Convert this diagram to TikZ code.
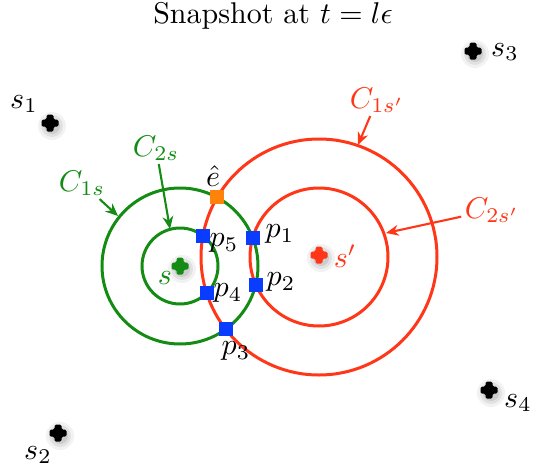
\documentclass[tikz,border=0pt]{standalone}
\usetikzlibrary{arrows.meta}
\definecolor{gr}{RGB}{20,140,20}
\definecolor{rd}{RGB}{255,55,25}
\definecolor{bl}{RGB}{10,60,255}
\definecolor{orng}{RGB}{255,130,10}
\tikzset{
  circ/.style={line width=1pt},
  sq/.style={rectangle, minimum size=4.7pt, inner sep=0pt, draw=none},
  lab/.style={inner sep=1pt},
  arr/.style={line width=0.7pt, -{Stealth[length=4.2pt,width=3.6pt]}},
  plusmark/.pic={
    \fill[black,opacity=0.05] (2,3) circle[radius=14];
    \fill[black,opacity=0.07] (2,3) circle[radius=11];
    \fill[black,opacity=0.09] (2,3) circle[radius=8];
    \fill[rounded corners=0.5pt] (-8.5,-3.5) -- (-3.5,-3.5) -- (-3.5,-8.5) -- (3.5,-8.5) -- (3.5,-3.5) -- (8.5,-3.5) -- (8.5,3.5) -- (3.5,3.5) -- (3.5,8.5) -- (-3.5,8.5) -- (-3.5,3.5) -- (-8.5,3.5) -- cycle;
  }
}
\begin{document}
\begin{tikzpicture}[x=0.3333pt,y=-0.3333pt]
\useasboundingbox (0,0) rectangle (545,472);
% centres
\coordinate (G) at (180,266);
\coordinate (R) at (319,257);
% circles
\draw[circ,gr] (G) circle[radius=78];
\draw[circ,gr] (G) circle[radius=38];
\draw[circ,rd] (R) circle[radius=118];
\draw[circ,rd] (R) circle[radius=69];
% crosses
\pic[black] at (50,123) {plusmark};
\pic[black] at (58,433) {plusmark};
\pic[black] at (473,51) {plusmark};
\pic[black] at (489,390) {plusmark};
\pic[gr] at (180,266) {plusmark};
\pic[rd] at (319,255) {plusmark};
% intersection squares (computed)
\node[sq,fill=orng] (e) at (217,197) {};
\node[sq,fill=bl] (p3) at (226,329) {};
\node[sq,fill=bl] (p5) at (202.9,235.7) {};
\node[sq,fill=bl] (p4) at (206.7,293.1) {};
\node[sq,fill=bl] (p1) at (252.7,237.8) {};
\node[sq,fill=bl] (p2) at (255.7,284.6) {};
% labels
\node[lab] (title) at (273,16) {Snapshot at $t=l\epsilon$};
\node[lab] (ls1) at (24,104) {$s_1$};
\node[lab] (ls2) at (38,455) {$s_2$};
\node[lab] (ls3) at (505,52) {$s_3$};
\node[lab] (ls4) at (518,403) {$s_4$};
\node[lab,text=gr] (ls) at (165,278) {$s$};
\node[lab,text=rd] (lsp) at (345,256) {$s'$};
\node[lab] (le) at (213,176) {$\hat{e}$};
\node[lab] (lp1) at (280,234) {$p_1$};
\node[lab] (lp2) at (281,282) {$p_2$};
\node[lab] (lp5) at (224,243) {$p_5$};
\node[lab] (lp4) at (228,293) {$p_4$};
\node[lab] (lp3) at (236,351) {$p_3$};
\node[lab,text=gr] (lC1s) at (82,183) {$C_{1s}$};
\node[lab,text=gr] (lC2s) at (156,148) {$C_{2s}$};
\node[lab,text=rd] (lC1sp) at (377,100) {$C_{1s'}$};
\node[lab,text=rd] (lC2sp) at (492,210) {$C_{2s'}$};
% arrow tips on circles
\coordinate (tC1s) at (118,216);
\coordinate (tC2s) at (170,229);
\coordinate (tC1sp) at (358,145);
\coordinate (tC2sp) at (386,233);
\draw[arr,gr] (lC1s) -- (tC1s);
\draw[arr,gr] (lC2s) -- (tC2s);
\draw[arr,rd] (lC1sp) -- (tC1sp);
\draw[arr,rd] (lC2sp) -- (tC2sp);
\end{tikzpicture}
\end{document}
